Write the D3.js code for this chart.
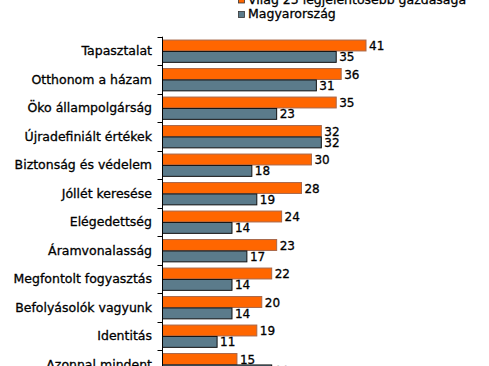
<!DOCTYPE html>
<html><head><meta charset="utf-8">
<script src="https://cdn.jsdelivr.net/npm/d3@7"></script>
<style>
html,body{margin:0;padding:0;background:#fff;overflow:hidden}
text{font-family:"DejaVu Sans",Verdana,sans-serif;fill:#000;stroke:#000;stroke-width:0.3px}
</style></head><body>
<svg id="c" width="489" height="366"></svg>
<script>
const categories = ["Tapasztalat","Otthonom a házam","Öko állampolgárság","Újradefiniált értékek","Biztonság és védelem","Jóllét keresése","Elégedettség","Áramvonalasság","Megfontolt fogyasztás","Befolyásolók vagyunk","Identitás","Azonnal mindent"];
const seriesNames = ["Világ 25 legjelentősebb gazdasága","Magyarország"];
const world = [41,36,35,32,30,28,24,23,22,20,19,15];
const hungary = [35,31,23,32,18,19,14,17,14,14,11,22];
const colors = ["#ff6600","#5b7b8b"];
const strokes = ["#a8674a","#111"];

const svg = d3.select("#c");
const x0 = 162.5, plotTop = 36.7, step = 28.5;
const x = d3.scaleLinear().domain([0,41]).range([x0, 366]);
const y = d3.scaleBand().domain(categories).range([plotTop, plotTop+step*categories.length]).paddingInner(0.2).paddingOuter(0.1);
const ys = d3.scaleBand().domain([0,1]).range([0, y.bandwidth()]);

const data = categories.map((c,i)=>({c, v:[world[i],hungary[i]]}));
const g = svg.selectAll("g.cat").data(data).join("g").attr("class","cat")
  .attr("transform", d=>`translate(0,${y(d.c)})`);
g.selectAll("rect").data(d=>d.v.map((v,k)=>({v,k}))).join("rect")
  .attr("x", x(0)).attr("y", d=>ys(d.k)+0.5).attr("width", d=>x(d.v)-x(0)).attr("height", ys.bandwidth()-0.5)
  .attr("fill", d=>colors[d.k]).attr("stroke", d=>strokes[d.k]).attr("stroke-width",1);
g.selectAll("text.val").data(d=>d.v.map((v,k)=>({v,k}))).join("text").attr("class","val")
  .attr("x", d=>x(d.v)+3).attr("y", d=>ys(d.k)+ys.bandwidth()/2+0.5)
  .attr("dy","0.36em").attr("font-size","12px").text(d=>d.v);

svg.selectAll("text.cat").data(categories).join("text").attr("class","cat")
  .attr("x", 152).attr("y", d=>y(d)+y.bandwidth()/2).attr("dy","0.36em")
  .attr("text-anchor","end").attr("font-size","12.5px").text(d=>d);

const bounds = d3.range(categories.length+1).map(i=>plotTop+i*step);
svg.append("line").attr("x1",x0).attr("x2",x0).attr("y1",plotTop).attr("y2",366).attr("stroke","#000");
svg.selectAll("line.tick").data(bounds).join("line").attr("class","tick")
  .attr("x1",x0-5).attr("x2",x0).attr("y1",d=>Math.round(d)+0.5).attr("y2",d=>Math.round(d)+0.5).attr("stroke","#000");

const lg = svg.append("g");
seriesNames.forEach((s,i)=>{
  const yy = 3.5 + i*14.5;
  lg.append("rect").attr("x",238.5).attr("y",yy-6.5).attr("width",6).attr("height",6)
    .attr("fill",colors[i]).attr("stroke","#333").attr("stroke-width",0.8);
  lg.append("text").attr("x",248).attr("y",yy).attr("font-size","12.5px").text(s);
});
</script></body></html>
